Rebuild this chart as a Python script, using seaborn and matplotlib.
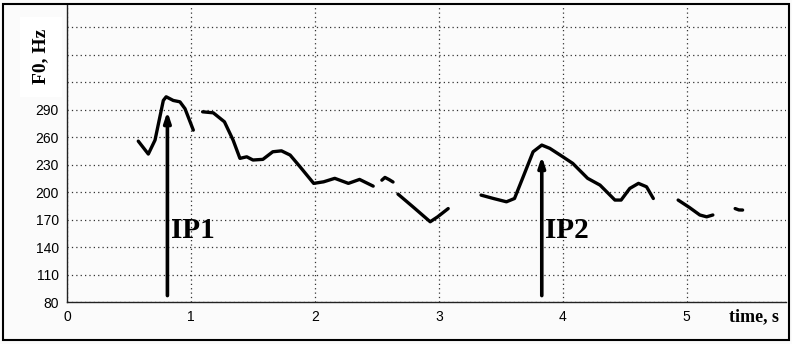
import numpy as np
import pandas as pd
import matplotlib
matplotlib.use("Agg")
import matplotlib.pyplot as plt
from matplotlib.patches import Rectangle
import seaborn as sns

# F0 contour, one list per voiced segment (time in s, F0 in Hz)
seg1_t = [0.575, 0.656, 0.71, 0.777, 0.80, 0.857, 0.911, 0.952, 1.019]
seg1_f = [255.6, 241.5, 256.7, 300.0, 304.0, 300.0, 298.5, 291.0, 267.6]

seg2_t = [1.094, 1.18, 1.27, 1.34, 1.395, 1.45, 1.50, 1.58, 1.66, 1.73, 1.80,
          1.88, 1.99, 2.07, 2.16, 2.27, 2.36, 2.47]
seg2_f = [287.6, 286.5, 276.7, 256.7, 236.8, 238.5, 235.0, 235.7, 244.0, 245.0,
          240.4, 227.6, 209.5, 211.2, 215.0, 209.5, 213.8, 206.5]

seg3_t = [2.54, 2.565, 2.60, 2.63]
seg3_f = [213.0, 216.0, 213.5, 211.0]

seg4_t = [2.67, 2.79, 2.93, 2.99, 3.075]
seg4_f = [197.8, 184.0, 167.6, 173.0, 182.0]

seg5_t = [3.34, 3.44, 3.545, 3.61, 3.68, 3.76, 3.83, 3.895, 4.0, 4.08, 4.20,
          4.30, 4.42, 4.47, 4.54, 4.61, 4.675, 4.73]
seg5_f = [196.7, 193.0, 189.4, 193.0, 216.7, 244.0, 251.3, 247.7, 238.5, 231.3,
          215.0, 207.6, 191.3, 191.3, 204.0, 209.5, 205.8, 193.0]

seg6_t = [4.93, 5.02, 5.105, 5.16, 5.21]
seg6_f = [191.3, 183.3, 175.0, 173.0, 175.0]

seg7_t = [5.39, 5.42, 5.45]
seg7_f = [182.0, 180.5, 180.4]

# intonation peak markers
ip_labels = ["IP1", "IP2"]
ip_times = [0.81, 3.83]
ip_heads = [291, 242]

yticks = [80, 110, 140, 170, 200, 230, 260, 290, 320, 350, 380]
ytick_labels = ["80", "110", "140", "170", "200", "230", "260", "290", "", "", ""]
xticks = [0, 1, 2, 3, 4, 5]

segments = [(seg1_t, seg1_f), (seg2_t, seg2_f), (seg3_t, seg3_f), (seg4_t, seg4_f),
            (seg5_t, seg5_f), (seg6_t, seg6_f), (seg7_t, seg7_f)]
rows = []
for i, (ts, fs) in enumerate(segments):
    for t, f in zip(ts, fs):
        rows.append({"seg": i, "time": t, "f0": f})
df = pd.DataFrame(rows)

sns.set_style("white")
plt.rcParams["font.family"] = ["Liberation Sans", "DejaVu Sans"]
plt.rcParams["text.color"] = "black"

fig = plt.figure(figsize=(7.92, 3.44), dpi=100, facecolor="#fbfbfb")
ax = fig.add_axes([0.0846, 0.122, 0.9078, 0.863])
ax.set_facecolor("#fbfbfb")

sns.lineplot(data=df, x="time", y="f0", units="seg", estimator=None, sort=False,
             color="black", linewidth=2.4, ax=ax, legend=False)

# arrows
for lab, t, top in zip(ip_labels, ip_times, ip_heads):
    ax.annotate("", xy=(t, top), xytext=(t, 84),
                arrowprops=dict(arrowstyle="-|>,head_length=0.6,head_width=0.2",
                                color="black", lw=2.6))
    ax.text(t + 0.025, 143, lab, fontsize=21, fontweight="bold", color="black",
            family="Liberation Serif", ha="left", va="bottom")

ax.set_xlim(0, 5.80)
ax.set_ylim(80, 404)
ax.set_xticks(xticks)
ax.set_yticks(yticks)
ax.set_yticklabels(ytick_labels)
ax.tick_params(axis="both", length=0, labelsize=10, pad=6, labelcolor="black")
ax.grid(True, linestyle=(0, (1, 2.5)), color="#333333", linewidth=0.9)
ax.set_xlabel("")
ax.set_ylabel("")

for s in ["top", "right"]:
    ax.spines[s].set_visible(False)
for s in ["left", "bottom"]:
    ax.spines[s].set_color("#222222")
    ax.spines[s].set_linewidth(1.0)

# axis titles
fig.text(0.921, 0.08, "time, s", fontsize=13, fontweight="bold", color="black",
         family="Liberation Serif", ha="left", va="center")
fig.text(0.052, 0.835, "F0, Hz", fontsize=14, fontweight="bold", rotation=90,
         color="black", family="Liberation Serif", ha="center", va="center",
         bbox=dict(facecolor="white", edgecolor="none", pad=9))

# outer frame
fig.patches.append(Rectangle((0.004, 0.012), 0.992, 0.976, transform=fig.transFigure,
                             fill=False, edgecolor="black", linewidth=1.5))

fig.savefig("out.png", dpi=100, facecolor=fig.get_facecolor())
